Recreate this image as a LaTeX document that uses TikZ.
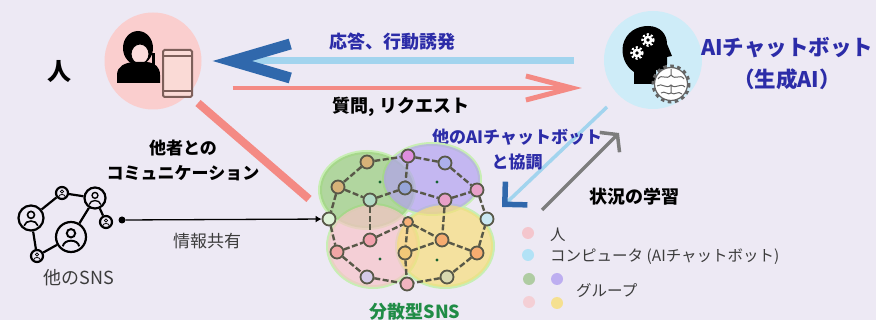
\documentclass[tikz,border=0pt]{standalone}
\usepackage{fontspec}
\setmainfont{Noto Sans CJK JP}
\usetikzlibrary{calc,arrows.meta}

\definecolor{bg}{RGB}{237,233,244}
\definecolor{humanbg}{RGB}{250,206,206}
\definecolor{botbg}{RGB}{206,236,248}
\definecolor{navy}{RGB}{44,44,168}
\definecolor{chev}{RGB}{48,104,172}
\definecolor{sky}{RGB}{162,212,238}
\definecolor{salmon}{RGB}{244,138,132}
\definecolor{phone}{RGB}{125,95,90}
\definecolor{phonefill}{RGB}{250,218,214}
\definecolor{cogline}{RGB}{100,100,100}
\definecolor{snsgreen}{RGB}{32,140,70}
\definecolor{linkcol}{RGB}{88,88,72}
\definecolor{textgray}{RGB}{60,60,60}
\definecolor{learn}{RGB}{125,125,125}
% group colours
\definecolor{ggreen}{RGB}{150,205,120}
\definecolor{gpurple}{RGB}{178,160,240}
\definecolor{gpink}{RGB}{248,196,200}
\definecolor{gyellow}{RGB}{248,222,120}
\definecolor{glow}{RGB}{200,238,180}
\definecolor{keycyan}{RGB}{178,226,246}

\def\peer{\node[peer]}
\def\member{\node[member]}

% small person inside a circle of the other SNS
\newcommand{\usericon}[2]{%
  \begin{scope}[shift={(#1)}]
    \draw[line width={0.13*#2pt}] (0,{-0.25*#2}) circle ({0.28*#2});
    \draw[line width={0.13*#2pt}] ({-0.55*#2},{0.62*#2}) .. controls ({-0.45*#2},{0.12*#2}) and ({0.45*#2},{0.12*#2}) .. ({0.55*#2},{0.62*#2});
  \end{scope}}

\tikzset{
  lbl/.style={inner sep=0pt, font=\bfseries\fontsize{18}{25}\selectfont},
  note/.style={inner sep=0pt, text=textgray, font=\fontsize{15.5}{20}\selectfont},
  peer/.style={circle, draw=linkcol, line width=1.8pt, minimum size=13pt, inner sep=0pt},
  link/.style={draw=linkcol, line width=2.4pt, dash pattern=on 6pt off 2.5pt},
  member/.style={circle, draw=black, line width=2.2pt, fill=bg, inner sep=0pt},
  reply/.style={draw=sky, line width=7pt,
    -{Straight Barb[color=chev, length=58pt, width=34pt, line width=11pt]}},
  ask/.style={draw=salmon, line width=4pt,
    -{Straight Barb[length=46pt, width=24pt, line width=5pt]}},
  coop/.style={draw=sky, line width=3.5pt,
    -{Straight Barb[color=chev, length=16pt, width=32pt, line width=5.5pt]}},
  study/.style={draw=learn, line width=3.5pt,
    -{Straight Barb[length=11pt, width=28pt, line width=3.5pt]}},
  talk/.style={draw=salmon, line width=8pt},
  share/.style={draw=black, line width=1.3pt, -{Latex[length=6pt, width=7pt]}},
  group/.style={fill opacity=0.68},
}

\begin{document}
\begin{tikzpicture}[x=1pt, y=-1pt]
\fill[bg] (0,0) rectangle (876,320);
\useasboundingbox (0,0) rectangle (876,320);

% ---------- the two actors
\node[circle, fill=humanbg, minimum size=97pt, inner sep=0pt] (human) at (153,61) {};
\node[circle, fill=botbg, minimum size=98pt, inner sep=0pt] (bot) at (653,60) {};
\node[lbl, font=\bfseries\fontsize{24}{26}\selectfont] (humanlabel) at (59,72) {人};
\node[lbl, text=navy, align=center, font=\bfseries\fontsize{21.5}{32}\selectfont] (botlabel) at (787,64) {AIチャットボット\\（生成AI）};

% person with a phone
\begin{scope}[shift={(human.center)}]
  \fill (-15,-13) ellipse [x radius=15, y radius=17];
  \fill (-1,-8) rectangle (2,4);
  \draw[line width=1pt, fill=humanbg!70!white] (-13,-7) ellipse [x radius=9, y radius=10];
  \fill (-22,-14) .. controls (-15,-24) and (-7,-21) .. (-4,-12) -- (-4,-24) -- (-23,-24) -- cycle;
  \fill (-36,22) -- (-36,14) .. controls (-36,5) and (-28,2) .. (-20,1) -- (-6,1) .. controls (2,2) and (7,6) .. (7,14) -- (7,22) -- cycle;
  \draw[phone, line width=2pt, fill=phonefill, rounded corners=1.5pt] (10,-11) rectangle (39,36);
  \draw[phone, line width=1.5pt] (10,-5) -- (39,-5) (10,30) -- (39,30);
\end{scope}

% head with cogs
\begin{scope}[shift={(bot.center)}]
  \fill (-19,24) -- (-19,12) .. controls (-28,6) and (-32,-5) .. (-30,-15)
    .. controls (-27,-28) and (-16,-34) .. (-5,-34)
    .. controls (7,-34) and (14,-26) .. (14,-16) -- (19,-4) -- (14,-3) -- (14,4)
    .. controls (14,9) and (9,10) .. (3,10) -- (3,24) -- cycle;
  \foreach \c in {(-5,-20), (-16,-7)} {
    \fill[white] \c circle (4.5);
    \draw[white, line width=2.5pt, dash pattern=on 2pt off 2pt] \c circle (5.5);
    \fill \c circle (1.8);
  }
  % the brain cog
  \draw[cogline, line width=3pt, dash pattern=on 3.5pt off 3.5pt] (18,24) circle (18);
  \draw[cogline, fill=white, line width=1.2pt] (18,24) circle (16.5);
  \draw[cogline, line width=1pt] (5,19) .. controls (9,13) and (13,21) .. (18,15) .. controls (23,21) and (27,13) .. (31,19)
    (4,26) .. controls (9,22) and (13,30) .. (18,25) .. controls (23,30) and (27,22) .. (32,27)
    (8,33) .. controls (12,30) and (15,36) .. (18,33) .. controls (22,36) and (25,30) .. (29,34)
    (18,9) -- (18,15) (18,25) -- (18,33);
\end{scope}

% ---------- main exchange
\draw[reply] ($(bot.west)+(-30,1)$) -- ($(human.east)+(11,0)$);
\draw[ask] ($(human.east)+(31,27)$) -- ($(bot.west)+(-22,28)$);
\node[lbl, text=navy] (replylabel) at (392,42) {応答、行動誘発};
\node[lbl] (asklabel) at (401,107) {質問, リクエスト};

% ---------- links to the distributed SNS
\coordinate (snsin) at (309,199);
\draw[talk] ($(human.center)+(45,42)$) -- (snsin);
\node[lbl, align=center, font=\bfseries\fontsize{17}{25}\selectfont] (talklabel) at (183,160) {他者との\\コミュニケーション};

\coordinate (coopstart) at ($(bot.center)+(-46,47)$);
\coordinate (coopend) at (502,207);
\draw[coop] (coopstart) -- (coopend);
\node[lbl, text=navy, align=center, font=\bfseries\fontsize{17}{25}\selectfont] (cooplabel) at (517,150) {他のAIチャットボット\\と協調};

\coordinate (studystart) at (542,210);
\coordinate (studyend) at ($(bot.center)+(-34,73)$);
\draw[study] (studystart) -- (studyend);
\node[lbl] (studylabel) at (634,197) {状況の学習};

% ---------- distributed SNS: four groups
\foreach \c/\rx/\ry in {(367,190)/47/38, (432,179)/48/35, (373,246)/45/41, (445,246)/48/41}
  \draw[glow, line width=4pt] \c ellipse [x radius=\rx, y radius=\ry];
\fill[ggreen, group] (367,190) ellipse [x radius=47, y radius=38];
\fill[gpurple, group] (432,179) ellipse [x radius=48, y radius=35];
\fill[gpink, group] (373,246) ellipse [x radius=45, y radius=41];
\fill[gyellow, group] (445,246) ellipse [x radius=48, y radius=41];
\foreach \c in {(380,182), (437,182), (380,259), (437,260)}
  \fill[snsgreen!70!black] \c circle (1.6);

\peer[fill={rgb,255:red,215;green,178;blue,120}] (p1) at (367,162) {};
\peer[fill={rgb,255:red,222;green,142;blue,222}] (p2) at (408,156) {};
\peer[fill={rgb,255:red,172;green,176;blue,236}] (p3) at (445,163) {};
\peer[fill={rgb,255:red,215;green,178;blue,120}] (p4) at (338,187) {};
\peer[fill={rgb,255:red,150;green,165;blue,215}] (p5) at (405,188) {};
\peer[fill={rgb,255:red,178;green,218;blue,198}] (p6) at (370,200) {};
\peer[fill={rgb,255:red,232;green,160;blue,200}] (p7) at (445,200) {};
\peer[fill={rgb,255:red,232;green,160;blue,200}] (p8) at (477,190) {};
\peer[fill={rgb,255:red,222;green,242;blue,215}] (p9) at (329,219) {};
\peer[fill={rgb,255:red,246;green,176;blue,120}, minimum size=10pt] (p10) at (408,222) {};
\peer[fill={rgb,255:red,202;green,232;blue,242}] (p11) at (487,219) {};
\peer[fill={rgb,255:red,242;green,160;blue,172}] (p12) at (370,240) {};
\peer[fill={rgb,255:red,242;green,166;blue,166}] (p13) at (337,252) {};
\peer[fill={rgb,255:red,240;green,200;blue,120}] (p14) at (405,253) {};
\peer[fill={rgb,255:red,246;green,172;blue,112}] (p15) at (442,240) {};
\peer[fill={rgb,255:red,246;green,172;blue,112}] (p16) at (477,253) {};
\peer[fill={rgb,255:red,212;green,202;blue,232}] (p17) at (367,277) {};
\peer[fill={rgb,255:red,242;green,180;blue,192}] (p18) at (407,284) {};
\peer[fill={rgb,255:red,216;green,216;blue,176}] (p19) at (447,277) {};

\foreach \a/\b in {p1/p2, p1/p4, p2/p3, p2/p5, p3/p8, p4/p6, p4/p9, p6/p5, p5/p7, p7/p8,
                   p8/p11, p6/p12, p9/p13, p13/p12, p13/p17, p17/p18, p12/p10, p10/p15,
                   p10/p14, p14/p18, p14/p15, p15/p16, p16/p11, p16/p19, p19/p18, p7/p15}
  \draw[link] (\a) -- (\b);

\node[lbl, text=snsgreen] (snslabel) at (415,312) {分散型SNS};

% ---------- the other SNS
\member[minimum size=12pt] (o1) at (62,193) {};
\member[minimum size=21pt] (o2) at (95,198) {};
\member[minimum size=25pt] (o3) at (31,218) {};
\member[minimum size=12pt] (o4) at (106,222) {};
\member[minimum size=30pt] (o5) at (71,237) {};
\member[minimum size=12pt] (o6) at (37,256) {};
\foreach \a/\b in {o3/o1, o1/o2, o2/o5, o2/o4, o5/o6, o6/o3}
  \draw[line width=2.2pt] (\a) -- (\b);
\foreach \n/\r in {o1/6, o2/10.5, o3/12.5, o4/6, o5/15, o6/6}
  \usericon{\n}{\r};
\node[note, font=\fontsize{18}{20}\selectfont] (otherlabel) at (79,278) {他のSNS};

\node[circle, fill=black, minimum size=7pt, inner sep=0pt] (tap) at (122,220) {};
\draw[share] (tap) -- (p9);
\node[note, font=\fontsize{17}{20}\selectfont] (sharelabel) at (207,241) {情報共有};

% ---------- legend
\fill[gpink!90!red, opacity=0.6] (528,233) circle (6);
\fill[keycyan] (528,255) circle (6);
\fill[ggreen!90!black, opacity=0.6] (529,279) circle (6);
\fill[gpurple, opacity=0.8] (557,279) circle (6);
\fill[gpink, opacity=0.7] (529,302) circle (6);
\fill[gyellow, opacity=0.8] (557,303) circle (6);
\node[note, anchor=west] (keyhuman) at (550,235) {人};
\node[note, anchor=west] (keybot) at (550,257) {コンピュータ (AIチャットボット)};
\node[note, anchor=west] (keygroup) at (576,291) {グループ};
\end{tikzpicture}
\end{document}
